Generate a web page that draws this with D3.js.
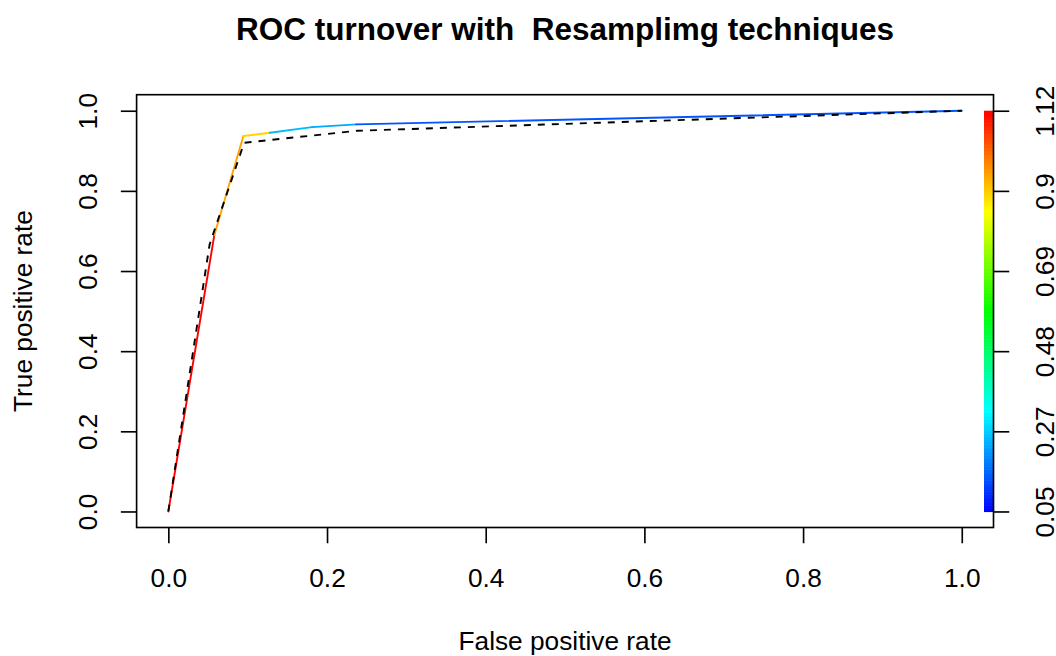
<!DOCTYPE html>
<html>
<head>
<meta charset="utf-8">
<script src="https://cdn.jsdelivr.net/npm/d3@7"></script>
<style>
  html, body { margin: 0; padding: 0; background: #fff; }
  svg { display: block; font-family: "Liberation Sans", Arial, Helvetica, sans-serif; }
</style>
</head>
<body>
<svg id="chart" width="1056" height="656"></svg>
<script>
// ROC curve of the resampled model, coloured by cutoff
const fprColored = [0, 0.058, 0.0946, 0.128, 0.181, 0.237, 1];
const tprColored = [0, 0.690, 0.937, 0.945, 0.959, 0.966, 1];
const cutoffs    = [1.115, 0.947, 0.894, 0.249, 0.232, 0.143, 0.055];

// Reference ROC curve (dashed)
const fprDashed = [0, 0.052, 0.0955, 0.238, 1];
const tprDashed = [0, 0.666, 0.920, 0.950, 1];

// Axis ticks
const xTicks = [0, 0.2, 0.4, 0.6, 0.8, 1.0];
const yTicks = [0, 0.2, 0.4, 0.6, 0.8, 1.0];
const keyLabels = ["0.05", "0.27", "0.48", "0.69", "0.9", "1.12"];

const titleText = "ROC turnover with  Resamplimg techniques";
const xLabel = "False positive rate";
const yLabel = "True positive rate";

const W = 1056, H = 656;
const box = { left: 136.6, right: 993.5, top: 94.7, bottom: 527.5 };
const fontSize = 26.25;
const tickLen = 15.75;
const lwd = 1.64;

const svg = d3.select("#chart");
svg.append("rect").attr("width", W).attr("height", H).attr("fill", "#fff");

// R-style 4% padding around the data range
const x = d3.scaleLinear().domain([-0.04, 1.04]).range([box.left, box.right]);
const y = d3.scaleLinear().domain([-0.04, 1.04]).range([box.bottom, box.top]);

// rainbow palette: blue for low cutoffs, red for high cutoffs
const cutMin = d3.min(cutoffs), cutMax = d3.max(cutoffs);
const hueScale = d3.scaleLinear().domain([cutMin, cutMax]).range([240, 0]).clamp(true);
const cutColor = c => d3.hsl(hueScale(c), 1, 0.5).formatHex();

// colour key bar
const keyWidth = 9.5;
const nKey = 256;
const keyY = d3.scaleLinear().domain([0, nKey]).range([y(0), y(1)]);
const keyG = svg.append("g");
keyG.selectAll("rect").data(d3.range(nKey)).join("rect")
  .attr("x", box.right - keyWidth)
  .attr("width", keyWidth)
  .attr("y", i => keyY(i + 1))
  .attr("height", i => keyY(i) - keyY(i + 1) + 0.6)
  .attr("fill", i => cutColor(cutMin + (cutMax - cutMin) * (i + 0.5) / nKey));

// coloured ROC segments
const segs = d3.range(fprColored.length - 1).map(i => ({
  x1: fprColored[i], y1: tprColored[i], x2: fprColored[i + 1], y2: tprColored[i + 1], c: cutoffs[i]
}));
svg.append("g").selectAll("line").data(segs).join("line")
  .attr("x1", d => x(d.x1)).attr("y1", d => y(d.y1))
  .attr("x2", d => x(d.x2)).attr("y2", d => y(d.y2))
  .attr("stroke", d => cutColor(d.c))
  .attr("stroke-width", 1.9)
  .attr("stroke-linecap", "round");

// dashed ROC curve
const line = d3.line().x(d => x(d[0])).y(d => y(d[1]));
svg.append("path")
  .datum(fprDashed.map((v, i) => [v, tprDashed[i]]))
  .attr("d", line)
  .attr("fill", "none")
  .attr("stroke", "#000")
  .attr("stroke-width", 1.9)
  .attr("stroke-dasharray", "7,7");

// plot frame
svg.append("rect")
  .attr("x", box.left).attr("y", box.top)
  .attr("width", box.right - box.left).attr("height", box.bottom - box.top)
  .attr("fill", "none").attr("stroke", "#000").attr("stroke-width", lwd);

function styleAxis(g) {
  g.select(".domain").remove();
  g.selectAll(".tick line").attr("stroke", "#000").attr("stroke-width", lwd);
  g.selectAll(".tick text")
    .attr("fill", "#000")
    .attr("font-size", fontSize)
    .attr("font-family", "Liberation Sans, Arial, Helvetica, sans-serif")
    .attr("dy", null);
}

// bottom axis
const gx = svg.append("g").attr("transform", `translate(0,${box.bottom})`)
  .call(d3.axisBottom(x).tickValues(xTicks).tickSize(tickLen).tickFormat(d3.format(".1f")));
styleAxis(gx);
gx.selectAll(".tick text").attr("y", 59.1).attr("text-anchor", "middle");

// left axis
const gy = svg.append("g").attr("transform", `translate(${box.left},0)`)
  .call(d3.axisLeft(y).tickValues(yTicks).tickSize(tickLen).tickFormat(d3.format(".1f")));
styleAxis(gy);
gy.selectAll(".tick text")
  .attr("transform", "rotate(-90)")
  .attr("x", 0).attr("y", -39.9)
  .attr("text-anchor", "middle");

// right axis for the colour key
const keyScale = d3.scalePoint().domain(keyLabels).range([y(0), y(1)]);
const gk = svg.append("g").attr("transform", `translate(${box.right},0)`)
  .call(d3.axisRight(keyScale).tickSize(tickLen));
styleAxis(gk);
gk.selectAll(".tick text")
  .attr("transform", "rotate(-90)")
  .attr("x", 0).attr("y", 60.5)
  .attr("text-anchor", "middle");

const cx = (box.left + box.right) / 2;
const cy = (box.top + box.bottom) / 2;

svg.append("text")
  .attr("x", cx).attr("y", 39.7)
  .attr("text-anchor", "middle")
  .attr("font-size", 31.5).attr("font-weight", "bold")
  .style("white-space", "pre")
  .text(titleText);

svg.append("text")
  .attr("x", cx).attr("y", 650)
  .attr("text-anchor", "middle")
  .attr("font-size", fontSize)
  .text(xLabel);

svg.append("text")
  .attr("transform", `translate(32,${cy}) rotate(-90)`)
  .attr("text-anchor", "middle")
  .attr("font-size", fontSize)
  .text(yLabel);
</script>
</body>
</html>
